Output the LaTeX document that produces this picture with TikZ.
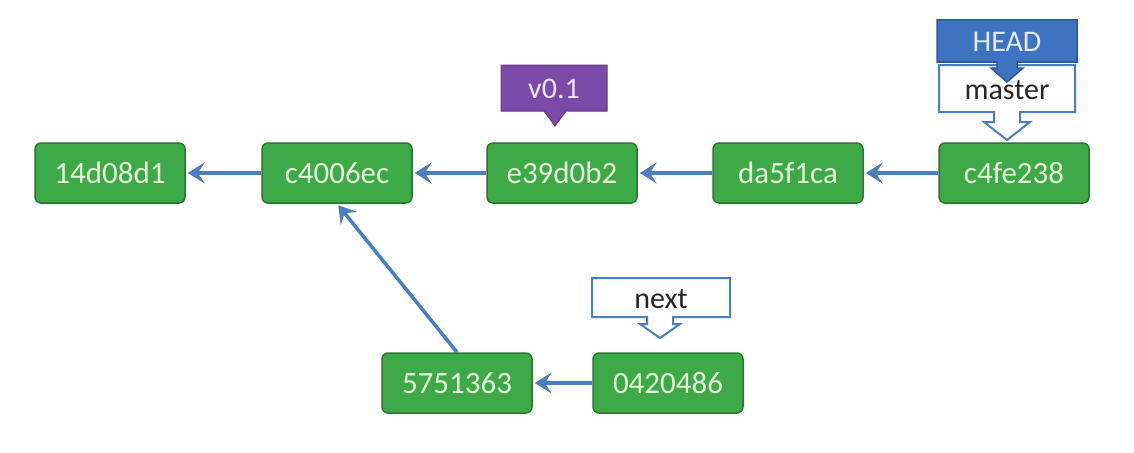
\documentclass[tikz,border=0pt]{standalone}
\usepackage{fontspec}
\setmainfont{Carlito}
\usetikzlibrary{arrows.meta}
\definecolor{commitgreen}{HTML}{3DAA47}
\definecolor{commitborder}{HTML}{2A7530}
\definecolor{committext}{HTML}{E4F6DA}
\definecolor{linkblue}{HTML}{4A7EBE}
\definecolor{headblue}{HTML}{3E73C2}
\definecolor{headborder}{HTML}{2B5A9E}
\definecolor{tagpurple}{HTML}{7A4AA8}
\begin{document}
\begin{tikzpicture}[x=1pt, y=-1pt,
  commit/.style={draw=commitborder, fill=commitgreen, line width=1.5pt, rounded corners=6pt,
    minimum width=150pt, minimum height=60pt, text=committext, font=\fontsize{31}{33}\selectfont},
  parent/.style={draw=linkblue, line width=3.5pt, shorten >=2pt, -{Stealth[length=17pt, width=21pt, inset=7pt]}},
  lbl/.style={font=\fontsize{30}{32}\selectfont, inner sep=0pt}]
\useasboundingbox (0,0) rectangle (1134,452);
\node[commit] (c1) at (110,173) {14d08d1};
\node[commit] (c2) at (337,173) {c4006ec};
\node[commit] (c3) at (562,173) {e39d0b2};
\node[commit] (c4) at (788,173) {da5f1ca};
\node[commit] (c5) at (1014,173) {c4fe238};
\node[commit] (n1) at (457,383) {5751363};
\node[commit] (n2) at (668,383) {0420486};
\draw[parent] (c2.west) -- (c1.east);
\draw[parent] (c3.west) -- (c2.east);
\draw[parent] (c4.west) -- (c3.east);
\draw[parent] (c5.west) -- (c4.east);
\draw[parent] (n2.west) -- (n1.east);
\draw[parent] (n1.north) -- (c2.south);
\draw[draw=linkblue, fill=white, line width=2pt] (939,65) -- (1075,65) -- (1075,112) -- (1020,112) -- (1020,122) -- (1030,122) -- (1007,140) -- (984,122) -- (994,122) -- (994,112) -- (939,112) -- cycle;
\draw[draw=headborder, fill=headblue, line width=1.5pt] (937,20) -- (1077,20) -- (1077,62) -- (1017,62) -- (1017,68) -- (1023,68) -- (1007,82) -- (991,68) -- (997,68) -- (997,62) -- (937,62) -- cycle;
\draw[draw=linkblue, fill=white, line width=2pt] (592,278) -- (730,278) -- (730,317) -- (673,317) -- (673,324) -- (680,324) -- (660,338) -- (640,324) -- (647,324) -- (647,317) -- (592,317) -- cycle;
\draw[fill=tagpurple, draw=tagpurple!80!black, line width=1pt] (501,65) -- (607,65) -- (607,111) -- (566,111) -- (555,126) -- (544,111) -- (501,111) -- cycle;
\node[lbl, text=white!85!headblue] (head) at (1007,42) {HEAD};
\node[lbl, text=black!85] (master) at (1007,90) {master};
\node[lbl, text=black!85] (next) at (661,299) {next};
\node[lbl, text=white!85!tagpurple] (tag) at (554,89) {v0.1};
\end{tikzpicture}
\end{document}
